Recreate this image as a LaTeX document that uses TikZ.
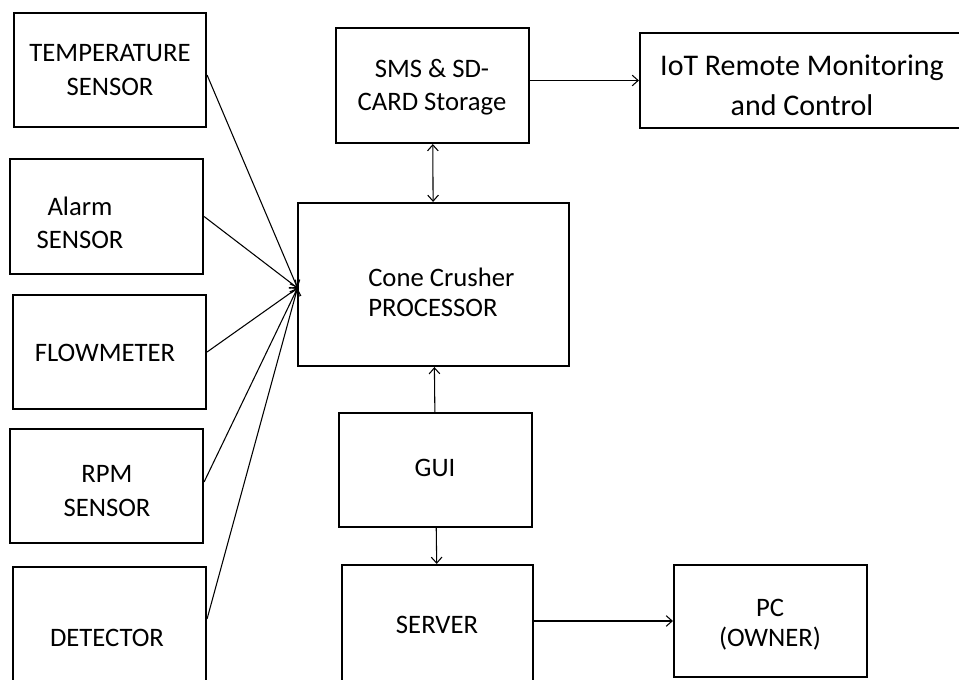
\documentclass[tikz,border=0pt]{standalone}
\usepackage{fontspec}
\setmainfont{Carlito}
\usetikzlibrary{arrows.meta,calc,fit}
\begin{document}
\begin{tikzpicture}[x=0.75pt,y=-0.75pt,
  box/.style={draw=black,line width=1.6pt,rectangle,inner sep=0pt},
  txt/.style={inner sep=0pt,align=center,font=\fontsize{20}{25}\selectfont},
  conn/.style={line width=0.8pt,-{Straight Barb[length=4.5pt,width=8pt]}},
  dconn/.style={line width=0.8pt,{Straight Barb[length=4.5pt,width=8pt]}-{Straight Barb[length=4.5pt,width=8pt]}}
]
\useasboundingbox (0,0) rectangle (959,680);
\fill[white] (0,0) rectangle (959,680);

% sensor boxes
\node[box,fit={(14,13) (206,127)}] (temp) {};
\node[txt,font=\fontsize{20}{26}\selectfont] (temptxt) at (110,70) {TEMPERATURE\\SENSOR};
\node[box,fit={(10,159) (203,274)}] (alarm) {};
\node[txt] (alarmtxt) at (80,223) {Alarm\\SENSOR};
\node[box,fit={(13,295) (206,409)}] (flow) {};
\node[txt] (flowtxt) at (105,353) {FLOWMETER};
\node[box,fit={(10,429) (203,543)}] (rpm) {};
\node[txt] (rpmtxt) at (107,491) {RPM\\SENSOR};
\node[box,fit={(13,567) (206,690)}] (det) {};
\node[txt] (dettxt) at (107,638) {DETECTOR};

% central column
\node[box,fit={(336,28) (529,143)}] (sms) {};
\node[txt] (smstxt) at (432,87) {SMS \& SD-\\CARD Storage};
\node[box,fit={(298,203) (569,366)}] (proc) {};
\node[txt,align=left,anchor=west,font=\fontsize{20}{22.5}\selectfont] (proctxt) at (368,292) {Cone Crusher\\PROCESSOR};
\node[box,fit={(339,413) (532,527)}] (gui) {};
\node[txt] (guitxt) at (435,468) {GUI};
\node[box,fit={(342,565) (533,690)}] (server) {};
\node[txt] (servertxt) at (437,625) {SERVER};

% right column
\node[box,fit={(640,33) (962,128)}] (iot) {};
\node[txt,font=\fontsize{22.5}{30}\selectfont] (iottxt) at (802,85) {IoT Remote Monitoring\\and Control};
\node[box,fit={(674,565) (867,677)}] (pc) {};
\node[txt,font=\fontsize{20}{22.5}\selectfont] (pctxt) at (770,625) {PC\\(OWNER)};

% connectors
\coordinate (conv) at (297.5,288);
\draw[conn] ($(temp.east)+(0,5)$) -- (conv);
\draw[conn] (alarm.east) -- (conv);
\draw[conn] (flow.east) -- (conv);
\draw[conn] ($(rpm.east)+(0,-4)$) -- (conv);
\draw[conn] ($(det.north east)+(0,53)$) -- (conv);

\draw[dconn] (sms) -- (proc);
\draw[conn] (sms.east |- iot.west) -- (iot.west);
\draw[conn] (gui) -- (proc);
\draw[conn] (gui) -- (server);
\draw[conn] (server.east |- pc.west) -- (pc.west);
\end{tikzpicture}
\end{document}
